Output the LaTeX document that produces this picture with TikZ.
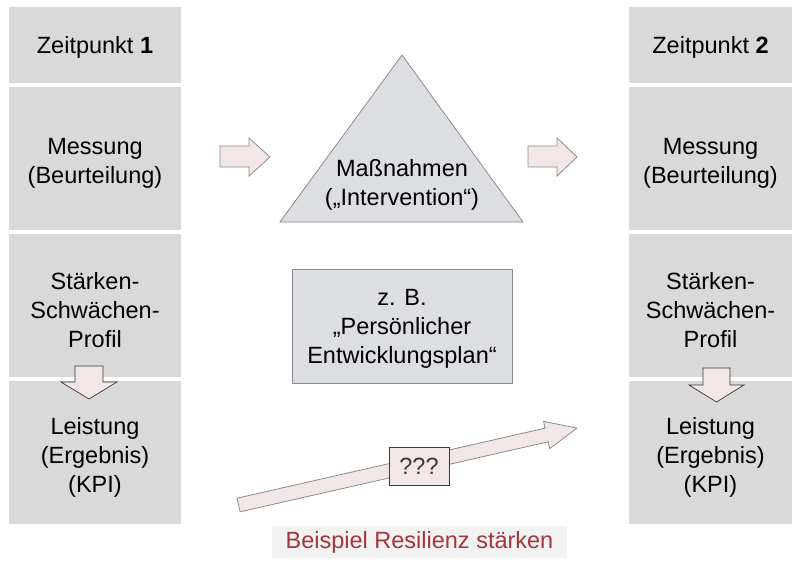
\documentclass[tikz,border=0pt]{standalone}
\usepackage{fontspec}
\setmainfont{Liberation Sans}
\definecolor{cellgray}{HTML}{D9D9D9}
\definecolor{trigray}{HTML}{DDDEE1}
\definecolor{edgegray}{HTML}{8C8C8C}
\definecolor{arrowpink}{HTML}{F3E6E6}
\definecolor{labelred}{HTML}{A5363B}
\definecolor{labelbg}{HTML}{F2F2F2}
\definecolor{darktext}{HTML}{3A3A3A}
\begin{document}
\begin{tikzpicture}[x=1pt,y=-1pt,
  font=\fontsize{23.5}{29}\selectfont,
  cell/.style={fill=cellgray, draw=none, inner sep=0pt},
  leftcell/.style={cell, minimum width=172pt},
  rightcell/.style={cell, minimum width=163pt},
  celltext/.style={align=center, inner sep=0pt, yshift=-5pt},
  blockarrow/.style={fill=arrowpink, draw=edgegray, line width=0.8pt, line join=miter},
  downarrow/.style={fill=arrowpink, draw=darktext, line width=0.7pt, line join=miter},
  graybox/.style={fill=trigray, draw=edgegray, line width=0.8pt}]
\useasboundingbox (0,0) rectangle (792,562);

% left column
\node[leftcell, minimum height=76pt]  (z1) at (95,45)    {};
\node[leftcell, minimum height=143pt] (m1) at (95,158.5) {};
\node[leftcell, minimum height=143pt] (s1) at (95,305.5) {};
\node[leftcell, minimum height=143pt] (l1) at (95,452.5) {};
\node[celltext, yshift=3pt] (tz1) at (z1.center) {Zeitpunkt \textbf{1}};
\node[celltext] (tm1) at (m1.center) {Messung\\(Beurteilung)};
\node[celltext] (ts1) at (s1.center) {Stärken-\\Schwächen-\\Profil};
\node[celltext] (tl1) at (l1.center) {Leistung\\(Ergebnis)\\(KPI)};

% right column
\node[rightcell, minimum height=76pt]  (z2) at (710.5,45)    {};
\node[rightcell, minimum height=143pt] (m2) at (710.5,158.5) {};
\node[rightcell, minimum height=143pt] (s2) at (710.5,305.5) {};
\node[rightcell, minimum height=143pt] (l2) at (710.5,452.5) {};
\node[celltext, yshift=3pt] (tz2) at (z2.center) {Zeitpunkt \textbf{2}};
\node[celltext] (tm2) at (m2.center) {Messung\\(Beurteilung)};
\node[celltext] (ts2) at (s2.center) {Stärken-\\Schwächen-\\Profil};
\node[celltext] (tl2) at (l2.center) {Leistung\\(Ergebnis)\\(KPI)};

% down arrows
\draw[downarrow] (75,366) -- (103,366) -- (103,382) -- (117,382) -- (89,399) -- (61,382) -- (75,382) -- cycle;
\draw[downarrow] (703,368) -- (730,368) -- (730,385) -- (744,385) -- (716.5,402) -- (689,385) -- (703,385) -- cycle;

% right arrows
\draw[blockarrow] (220,146) -- (249,146) -- (249,138) -- (270,157) -- (249,176) -- (249,167) -- (220,167) -- cycle;
\draw[blockarrow] (528,146) -- (557,146) -- (557,138) -- (577,157) -- (557,176) -- (557,167) -- (528,167) -- cycle;

% triangle
\draw[graybox] (402,55) -- (523,222) -- (280,222) -- cycle;
\node[align=center, inner sep=0pt] (mass) at (402,185) {Maßnahmen\\(„Intervention“)};

% plan box
\node[graybox, minimum width=220pt, minimum height=114pt, inner sep=0pt] (plan) at (402,326) {};
\node[align=center, inner sep=0pt] (plantext) at (402,329) {z. B.\\„Persönlicher\\Entwicklungsplan“};

% diagonal arrow
\begin{scope}[shift={(238.5,505)}, rotate=12.8]
\draw[blockarrow] (0,-7) -- (316,-7) -- (316,-14) -- (347,0) -- (316,14) -- (316,7) -- (0,7) -- cycle;
\end{scope}
\node[fill=arrowpink, draw=darktext, line width=0.8pt, text=darktext, minimum width=60pt, minimum height=38pt, inner sep=0pt] (q) at (419,466) {???};

% label
\node[fill=labelbg, text=labelred, minimum width=295pt, minimum height=32pt, inner sep=0pt] (lab) at (419.5,542) {Beispiel Resilienz stärken};
\end{tikzpicture}
\end{document}
